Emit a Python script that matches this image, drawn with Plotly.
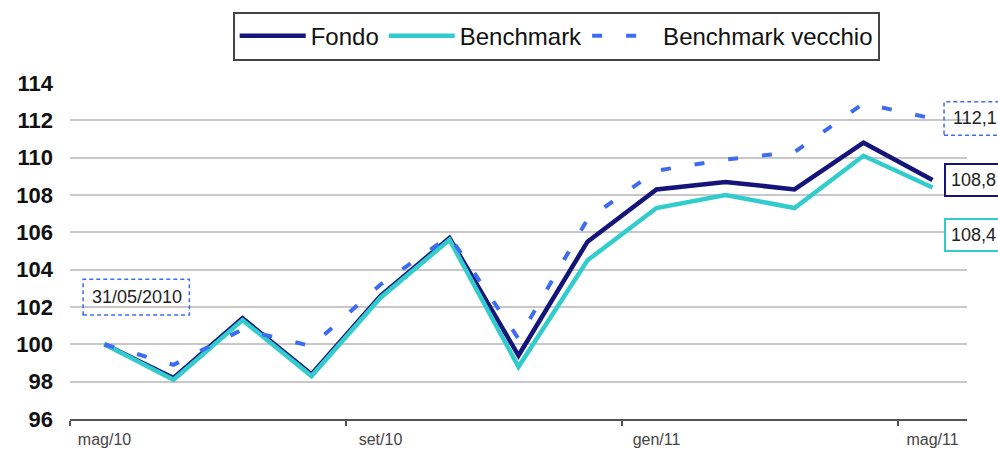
import plotly.graph_objects as go

# Monthly index values, base 100 at 31/05/2010
months = ["mag/10", "giu/10", "lug/10", "ago/10", "set/10", "ott/10", "nov/10",
          "dic/10", "gen/11", "feb/11", "mar/11", "apr/11", "mag/11"]
fondo = [100.0, 98.2, 101.4, 98.4, 102.6, 105.7, 99.4, 105.5, 108.3, 108.7, 108.3, 110.8, 108.8]
benchmark = [100.0, 98.1, 101.3, 98.3, 102.5, 105.6, 98.8, 104.5, 107.3, 108.0, 107.3, 110.1, 108.4]
benchmark_vecchio = [100.0, 98.9, 100.8, 99.9, 103.2, 105.8, 100.3, 106.7, 109.3, 109.9, 110.3, 112.9, 112.1]

label_months = ["mag/10", "set/10", "gen/11", "mag/11"]
y_ticks = [96, 98, 100, 102, 104, 106, 108, 110, 112, 114]
start_label = "31/05/2010"

NAVY = "#14147a"
TURQ = "#33cccc"
BLUE = "#3d6cf2"
FONT = "Liberation Sans, Arial, sans-serif"

x = list(range(len(months)))

fig = go.Figure()
fig.add_trace(go.Scatter(x=x, y=fondo, mode="lines", name="Fondo",
                         line=dict(color=NAVY, width=4.5)))
fig.add_trace(go.Scatter(x=x, y=benchmark, mode="lines", name="Benchmark",
                         line=dict(color=TURQ, width=4.5)))
fig.add_trace(go.Scatter(x=x, y=benchmark_vecchio, mode="lines", name="Benchmark vecchio",
                         line=dict(color=BLUE, width=4, dash="10px,24px")))


def fmt(v):
    return f"{v:.1f}".replace(".", ",")


last = x[-1]
# End-of-period value labels
fig.add_annotation(x=last, y=benchmark_vecchio[-1], xref="x", yref="y",
                   text=fmt(benchmark_vecchio[-1]), showarrow=False,
                   xanchor="left", xshift=13, borderpad=6,
                   font=dict(family=FONT, size=18, color="#222"))
fig.add_shape(type="rect", xref="paper", yref="y",
              x0=0.9744, x1=1.045,
              y0=benchmark_vecchio[-1] - 0.9, y1=benchmark_vecchio[-1] + 0.9,
              line=dict(color=BLUE, width=1.5, dash="4px,3px"))
fig.add_annotation(x=last, y=fondo[-1], xref="x", yref="y",
                   text=fmt(fondo[-1]), showarrow=False,
                   xanchor="left", xshift=11, borderpad=5, borderwidth=2,
                   bordercolor=NAVY, bgcolor="white",
                   font=dict(family=FONT, size=18, color="#222"))
fig.add_annotation(x=last, y=benchmark[-1], xref="x", yref="y",
                   text=fmt(benchmark[-1]), showarrow=False,
                   xanchor="left", xshift=11, yshift=-47, borderpad=5, borderwidth=2,
                   bordercolor=TURQ, bgcolor="white",
                   font=dict(family=FONT, size=18, color="#222"))

# Start date label above the first point
fig.add_annotation(x=x[0], y=fondo[0], xref="x", yref="y",
                   text=start_label, showarrow=False,
                   xshift=32, yshift=47,
                   font=dict(family=FONT, size=18, color="#222"))
fig.add_shape(type="rect", xref="x", yref="y",
              x0=x[0] - 0.31, x1=x[0] + 1.23,
              y0=fondo[0] + 1.57, y1=fondo[0] + 3.48,
              line=dict(color=BLUE, width=1.5, dash="4px,3px"))

fig.update_layout(
    width=998, height=452,
    margin=dict(l=70, r=31, t=83, b=33, autoexpand=False),
    paper_bgcolor="white", plot_bgcolor="white",
    font=dict(family=FONT, color="#111"),
    showlegend=True,
    legend=dict(orientation="h", x=0.542, xanchor="center", y=1.212, yanchor="top",
                bordercolor="#444", borderwidth=2, bgcolor="white",
                font=dict(family=FONT, size=24, color="#111"),
                itemwidth=66, traceorder="normal"),
    xaxis=dict(
        automargin=False,
        range=[-0.5, len(months) - 0.5],
        tickmode="array",
        tickvals=[months.index(m) for m in label_months],
        ticktext=label_months,
        ticks="",
        ticklabelstandoff=5,
        tickfont=dict(family=FONT, size=16, color="#444"),
        showgrid=False, zeroline=False,
        showline=True, linecolor="#555", linewidth=2,
        minor=dict(tickmode="array",
                   tickvals=[months.index(m) - 0.5 for m in label_months],
                   ticks="outside", ticklen=5, tickwidth=1.5, tickcolor="#555",
                   showgrid=False),
    ),
    yaxis=dict(
        automargin=False,
        range=[y_ticks[0], y_ticks[-1]],
        tickmode="array", tickvals=y_ticks,
        ticks="",
        ticklabelstandoff=16,
        tickfont=dict(family=FONT, size=22, color="#111", weight="bold"),
        showgrid=True, gridcolor="#c8c8c8", gridwidth=2,
        zeroline=False, showline=False,
    ),
)

fig.write_html("out.html")
